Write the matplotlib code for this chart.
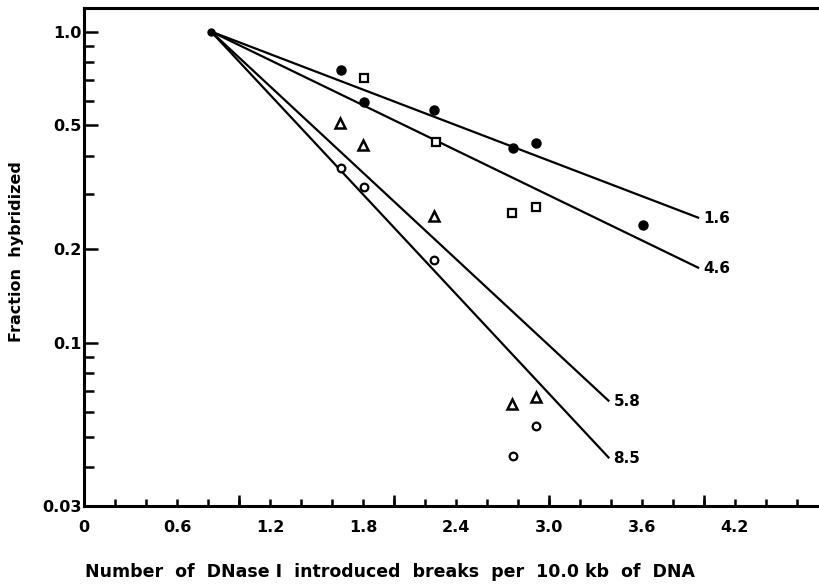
import matplotlib
matplotlib.use("Agg")
import matplotlib.pyplot as plt
from matplotlib.ticker import FixedLocator, NullFormatter

# breaks per 10.0 kb (x) and fraction hybridized (y)
origin_x = 0.82
origin_y = 1.0

filled_x = [1.66, 1.81, 2.26, 2.77, 2.92, 3.61]
filled_y = [0.755, 0.596, 0.561, 0.424, 0.44, 0.24]

square_x = [1.81, 2.27, 2.76, 2.92]
square_y = [0.711, 0.443, 0.262, 0.274]

triangle_x = [1.65, 1.80, 2.26, 2.76, 2.92]
triangle_y = [0.51, 0.433, 0.256, 0.0637, 0.067]

open_x = [1.66, 1.81, 2.26, 2.77, 2.92]
open_y = [0.365, 0.318, 0.185, 0.0433, 0.054]

# fitted lines: end point and label
line_labels = ["1.6", "4.6", "5.8", "8.5"]
line_end_x = [3.97, 3.97, 3.39, 3.39]
line_end_y = [0.252, 0.174, 0.065, 0.0427]

x_label_ticks = [0, 0.6, 1.2, 1.8, 2.4, 3.0, 3.6, 4.2]
x_label_text = ["0", "0.6", "1.2", "1.8", "2.4", "3.0", "3.6", "4.2"]
x_minor_ticks = [i * 0.2 for i in range(1, 24)]
x_long_ticks = [1, 2, 3, 4]

y_major = [0.03, 0.1, 0.2, 0.5, 1.0]
y_major_text = ["0.03", "0.1", "0.2", "0.5", "1.0"]
y_minor = [0.04, 0.05, 0.06, 0.07, 0.08, 0.09, 0.3, 0.4, 0.6, 0.7, 0.8, 0.9]

plt.rcParams["font.family"] = "DejaVu Sans"
plt.rcParams["font.weight"] = "bold"

fig = plt.figure(figsize=(8.2, 5.87), dpi=100)
ax = fig.add_axes([0.1024, 0.138, 0.8976, 0.8484])

ax.set_yscale("log")
ax.set_xlim(0, 4.75)
ax.set_ylim(0.03, 1.19)

lw = 1.6
for lab, ex, ey in zip(line_labels, line_end_x, line_end_y):
    ax.plot([origin_x, ex], [origin_y, ey], color="black", lw=lw, solid_capstyle="butt")
    ax.annotate(lab, (ex, ey), xytext=(3, 0), textcoords="offset points",
                ha="left", va="center", fontsize=11, fontweight="bold")

ax.plot([origin_x], [origin_y], "o", color="black", ms=5)
ax.plot(filled_x, filled_y, "o", color="black", ms=6.5, ls="none")
ax.plot(square_x, square_y, "s", mfc="white", mec="black", mew=1.6, ms=5.5, ls="none")
ax.plot(triangle_x, triangle_y, "^", mfc="white", mec="black", mew=1.8, ms=7, ls="none")
ax.plot(open_x, open_y, "o", mfc="white", mec="black", mew=1.6, ms=5.5, ls="none")

# spines
for side in ["left", "bottom", "top"]:
    ax.spines[side].set_linewidth(2.2)
ax.spines["right"].set_visible(False)

# x ticks
ax.set_xticks(x_label_ticks)
ax.set_xticklabels(x_label_text)
ax.xaxis.set_minor_locator(FixedLocator(x_minor_ticks))
ax.tick_params(axis="x", which="major", direction="in", length=5, width=1.8,
               labelsize=11.5, pad=10, top=False)
ax.tick_params(axis="x", which="minor", direction="in", length=5, width=1.8, top=False)
sec = ax.secondary_xaxis("bottom")
sec.set_xticks(x_long_ticks)
sec.set_xticklabels([])
sec.tick_params(axis="x", direction="in", length=8, width=1.8)
sec.spines["bottom"].set_visible(False)

# y ticks
ax.yaxis.set_major_locator(FixedLocator(y_major))
ax.set_yticklabels(y_major_text)
ax.yaxis.set_minor_locator(FixedLocator(y_minor))
ax.yaxis.set_minor_formatter(NullFormatter())
ax.tick_params(axis="y", which="major", direction="in", length=10, width=1.8,
               labelsize=11.5, pad=1.5, right=False)
ax.tick_params(axis="y", which="minor", direction="in", length=7, width=1.8, right=False)
for t in ax.get_xticklabels() + ax.get_yticklabels():
    t.set_fontweight("bold")

ax.set_xlabel("Number  of  DNase I  introduced  breaks  per  10.0 kb  of  DNA",
              fontsize=12.5, fontweight="bold")
ax.xaxis.set_label_coords((390 - 84) / 736, -0.115)
ax.set_ylabel("Fraction  hybridized", fontsize=11.5, fontweight="bold")
ax.yaxis.set_label_coords(-0.082, 0.51)

fig.savefig("out.png", dpi=100)
